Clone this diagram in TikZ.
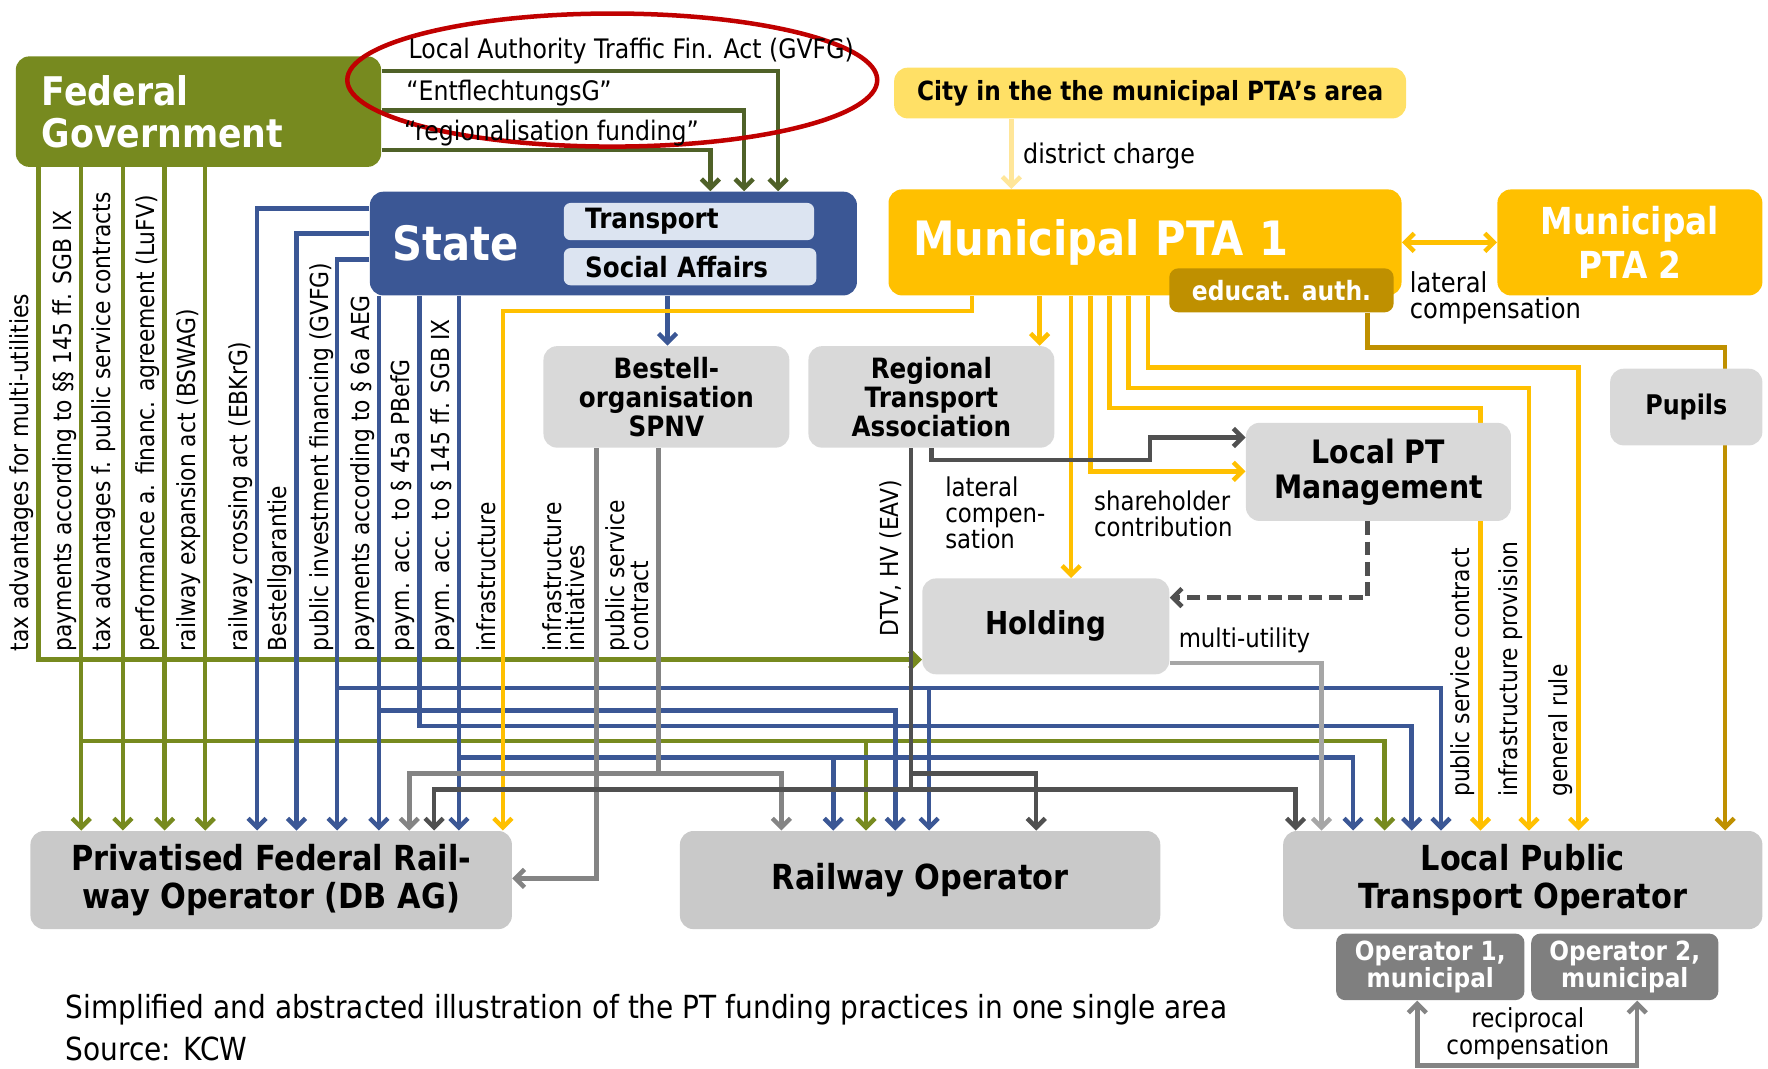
\documentclass[tikz,border=0pt]{standalone}
\usepackage{fontspec}
\setmainfont[FakeStretch=0.88]{DejaVu Sans}
\usetikzlibrary{arrows.meta,backgrounds}

\definecolor{fedgreen}{HTML}{778A1F}
\definecolor{darkolive}{HTML}{4F6128}
\definecolor{stateblue}{HTML}{3B5795}
\definecolor{paleblue}{HTML}{DCE4F1}
\definecolor{ptagold}{HTML}{FFC000}
\definecolor{citygold}{HTML}{FFE066}
\definecolor{chargegold}{HTML}{FFE699}
\definecolor{educgold}{HTML}{BF9000}
\definecolor{boxgray}{HTML}{D9D9D9}
\definecolor{opgray}{HTML}{C9C9C9}
\definecolor{subgray}{HTML}{7F7F7F}
\definecolor{linemid}{HTML}{848484}
\definecolor{linedark}{HTML}{505050}
\definecolor{linelight}{HTML}{A6A6A6}
\definecolor{ringred}{HTML}{C00000}

\newcommand{\fsz}[2]{\fontsize{#1}{#2}\selectfont}

\tikzset{
  box/.style={rounded corners=6pt, inner sep=0pt, align=center, font=\bfseries\fsz{12.4}{13}},
  graybox/.style={box, fill=boxgray},
  vlab/.style={rotate=90, anchor=west, inner sep=0pt, align=left, font=\fsz{11}{10.5}},
  hlab/.style={anchor=west, inner sep=0pt, align=left, font=\fsz{11.5}{11.5}},
  link/.style={line width=2pt, ->},
  >={Straight Barb[length=4pt,width=8pt]}
}

\begin{document}
\begin{tikzpicture}[x=0.5pt, y=-0.5pt]
\useasboundingbox (0,0) rectangle (1568,948);

% boxes
\node[box, fill=fedgreen, text=white, minimum width=162pt, minimum height=49pt, text width=139pt, inner xsep=11.5pt, align=left, font=\bfseries\fsz{17.5}{18.5}] (fed) at (176,99) {Federal\\Government};
\node[box, fill=stateblue, text=white, minimum width=216pt, minimum height=46pt, text width=196pt, inner xsep=10pt, align=left, font=\bfseries\fsz{21}{21}] (state) at (544,216) {State};
\node[box, rounded corners=3pt, fill=paleblue, minimum width=111pt, minimum height=16.5pt, text width=92pt, inner xsep=9.5pt, align=left] (transport) at (611,196.5) {Transport};
\node[box, rounded corners=3pt, fill=paleblue, minimum width=112pt, minimum height=16.5pt, text width=93pt, inner xsep=9.5pt, align=left] (social) at (612,236.5) {Social Affairs};
\node[box, fill=citygold, minimum width=227pt, minimum height=22.5pt, font=\bfseries\fsz{11.7}{12}] (city) at (1020,82.5) {City in the the municipal PTA’s area};
\node[box, fill=ptagold, text=white, minimum width=227.5pt, minimum height=47pt, text width=205.5pt, inner xsep=11pt, align=left, font=\bfseries\fsz{21}{21}] (pta1) at (1015.5,215) {Municipal PTA 1};
\node[box, rounded corners=4pt, fill=educgold, text=white, minimum width=99.5pt, minimum height=19.5pt, font=\bfseries\fsz{11.8}{12}] (educ) at (1136.5,257.5) {educat. auth.};
\node[box, fill=ptagold, text=white, minimum width=117.5pt, minimum height=47pt, font=\bfseries\fsz{16.5}{19.5}] (pta2) at (1445.5,215) {Municipal\\PTA 2};
\node[graybox, minimum width=109pt, minimum height=45pt] (bestell) at (591,352) {Bestell-\\organisation\\SPNV};
\node[graybox, minimum width=109pt, minimum height=45pt] (rta) at (826,352) {Regional\\Transport\\Association};
\node[graybox, minimum width=117.5pt, minimum height=43.5pt, font=\bfseries\fsz{14.3}{15.5}] (lptm) at (1222.5,418.5) {Local PT\\Management};
\node[graybox, minimum width=67.5pt, minimum height=34pt, font=\bfseries\fsz{12}{12}] (pupils) at (1495.5,361) {Pupils};
\node[graybox, minimum width=109.5pt, minimum height=42.5pt, font=\bfseries\fsz{14}{14}] (holding) at (927.5,555.5) {Holding};
\node[box, fill=opgray, minimum width=213.5pt, minimum height=43.5pt, font=\bfseries\fsz{15.3}{16.5}] (dbag) at (240.5,780.5) {Privatised Federal Rail-\\way Operator (DB AG)};
\node[box, fill=opgray, minimum width=213pt, minimum height=43.5pt, font=\bfseries\fsz{15.3}{16.5}] (railop) at (816,780.5) {Railway Operator};
\node[box, fill=opgray, minimum width=212.5pt, minimum height=43.5pt, font=\bfseries\fsz{15.3}{16.5}] (lpto) at (1350.5,780.5) {Local Public\\Transport Operator};
\node[box, rounded corners=4pt, fill=subgray, text=white, minimum width=83.5pt, minimum height=29.5pt, font=\bfseries\fsz{11.7}{11}] (op1) at (1268.5,857.5) {Operator 1,\\municipal};
\node[box, rounded corners=4pt, fill=subgray, text=white, minimum width=83pt, minimum height=29.5pt, font=\bfseries\fsz{11.7}{11}] (op2) at (1441,857.5) {Operator 2,\\municipal};

% connectors behind the boxes
\begin{pgfonlayer}{background}
  % federal government
  \draw[link, darkolive] (fed.east |- 0,63) -| (690,0 |- state.north);
  \draw[link, darkolive] (fed.east |- 0,98) -| (660,0 |- state.north);
  \draw[link, darkolive] (fed.east |- 0,133) -| (630,0 |- state.north);
  \draw[link, fedgreen] (34,0 |- fed.south) |- (holding.west |- 0,585);
  \foreach \x in {72,109,146,182}
    \draw[link, fedgreen] (\x,0 |- fed.south) -- (\x,0 |- dbag.north);
  \draw[link, fedgreen] (72,657) -| (1228,0 |- lpto.north);
  \draw[link, fedgreen] (768,657) -- (768,0 |- railop.north);
  % state
  \draw[link, stateblue] (state.west |- 0,185) -| (228,0 |- dbag.north);
  \draw[link, stateblue] (state.west |- 0,207) -| (263,0 |- dbag.north);
  \draw[link, stateblue] (state.west |- 0,230) -| (299,0 |- dbag.north);
  \draw[link, stateblue] (299,610) -| (1278,0 |- lpto.north);
  \draw[link, stateblue] (824,610) -- (824,0 |- railop.north);
  \draw[link, stateblue] (336,0 |- state.south) -- (336,0 |- dbag.north);
  \draw[link, stateblue] (336,630) -| (794,0 |- railop.north);
  \draw[link, stateblue] (372,0 |- state.south) -- (372,644) -| (1252,0 |- lpto.north);
  \draw[link, stateblue] (407,0 |- state.south) -- (407,0 |- dbag.north);
  \draw[link, stateblue] (407,672) -| (1200,0 |- lpto.north);
  \draw[link, stateblue] (739,672) -- (739,0 |- railop.north);
  \draw[link, stateblue] (592,0 |- state.south) -- (592,0 |- bestell.north);
  % municipal PTAs
  \draw[link, chargegold] (897,0 |- city.south) -- (897,0 |- pta1.north);
  \draw[line width=2pt, <->, ptagold] (pta1.east) -- (pta2.west);
  \draw[link, ptagold] (862,0 |- pta1.south) -- (862,276) -| (446,0 |- dbag.north);
  \draw[link, ptagold] (922,0 |- pta1.south) -- (922,0 |- rta.north);
  \draw[link, ptagold] (950,0 |- pta1.south) -- (950,0 |- holding.north);
  \draw[link, ptagold] (967,0 |- pta1.south) |- (lptm.west |- 0,418);
  \draw[link, ptagold] (984,0 |- pta1.south) -- (984,362) -| (1313,0 |- lpto.north);
  \draw[link, ptagold] (1001,0 |- pta1.south) -- (1001,344) -| (1356,0 |- lpto.north);
  \draw[link, ptagold] (1018,0 |- pta1.south) -- (1018,326) -| (1400,0 |- lpto.north);
  \draw[link, educgold] (1213,0 |- educ.south) -- (1213,308) -| (1530,0 |- lpto.north);
  % bestellorganisation, association, holding
  \draw[link, linemid] (529,0 |- bestell.south) |- (dbag.east |- 0,779);
  \draw[line width=2pt, linemid] (584,0 |- bestell.south) -- (584,686);
  \draw[link, linemid] (584,686) -| (363,0 |- dbag.north);
  \draw[link, linemid] (584,686) -| (693,0 |- railop.north);
  \draw[line width=2pt, linedark] (808,0 |- rta.south) -- (808,700);
  \draw[link, linedark] (808,686) -| (919,0 |- railop.north);
  \draw[link, linedark] (808,700) -| (385,0 |- dbag.north);
  \draw[link, linedark] (808,700) -| (1149,0 |- lpto.north);
  \draw[link, linedark] (826,0 |- rta.south) |- (1020,408) |- (lptm.west |- 0,388);
  \draw[link, linedark, dash pattern=on 6pt off 3pt] (1213,0 |- lptm.south) |- (holding.east |- 0,530);
  \draw[link, linelight] (holding.east |- 0,588) -| (1172,0 |- lpto.north);
  \draw[line width=2pt, <->, linemid] (1257,0 |- op1.south) -- (1257,945) -- (1452,945) -- (1452,0 |- op2.south);
\end{pgfonlayer}

\draw[ringred, line width=2pt] (543,71) ellipse [x radius=117.5pt, y radius=29.5pt];

% labels
\node[hlab, font=\fsz{11.9}{12}] (gvfg) at (362,45) {Local Authority Traffic Fin. Act (GVFG)};
\node[hlab, font=\fsz{11.9}{12}] (entfl) at (360,83) {“EntflechtungsG”};
\node[hlab, font=\fsz{11.9}{12}] (regio) at (358,118) {“regionalisation funding”};
\node[hlab, font=\fsz{12}{12}] (charge) at (907,138) {district charge};
\node[hlab, font=\fsz{12.2}{11.5}] (latpta) at (1250,264.5) {lateral\\compensation};
\node[hlab] (latrta) at (838,455) {lateral\\compen-\\sation};
\node[hlab] (share) at (970,456) {shareholder\\contribution};
\node[hlab] (multi) at (1045,568) {multi-utility};
\node[hlab, anchor=center, align=center, font=\fsz{11.6}{11}] (recip) at (1355,917) {reciprocal\\compensation};
\node[hlab, font=\fsz{14.1}{18.5}] (caption) at (58,911.5) {Simplified and abstracted illustration of the PT funding practices in one single area\\Source: KCW};

\node[vlab] (l1) at (19,578) {tax advantages for multi-utilities};
\node[vlab] (l2) at (57,578) {payments according to §§ 145 ff. SGB IX};
\node[vlab] (l3) at (92,578) {tax advantages f. public service contracts};
\node[vlab] (l4) at (131,578) {performance a. financ. agreement (LuFV)};
\node[vlab] (l5) at (167,578) {railway expansion act (BSWAG)};
\node[vlab] (l6) at (213,578) {railway crossing act (EBKrG)};
\node[vlab] (l7) at (248,578) {Bestellgarantie};
\node[vlab] (l8) at (285,578) {public investment financing (GVFG)};
\node[vlab] (l9) at (322,578) {payments according to § 6a AEG};
\node[vlab] (l10) at (357,578) {paym. acc. to § 45a PBefG};
\node[vlab] (l11) at (393,578) {paym. acc. to § 145 ff. SGB IX};
\node[vlab] (l12) at (431,578) {infrastructure};
\node[vlab] (l13) at (500,578) {infrastructure\\initiatives};
\node[vlab] (l14) at (556,578) {public service\\contract};
\node[vlab] (l15) at (790,565) {DTV, HV (EAV)};
\node[vlab] (l16) at (1297,707) {public service contract};
\node[vlab] (l17) at (1340,707) {infrastructure provision};
\node[vlab] (l18) at (1384,707) {general rule};
\end{tikzpicture}
\end{document}
